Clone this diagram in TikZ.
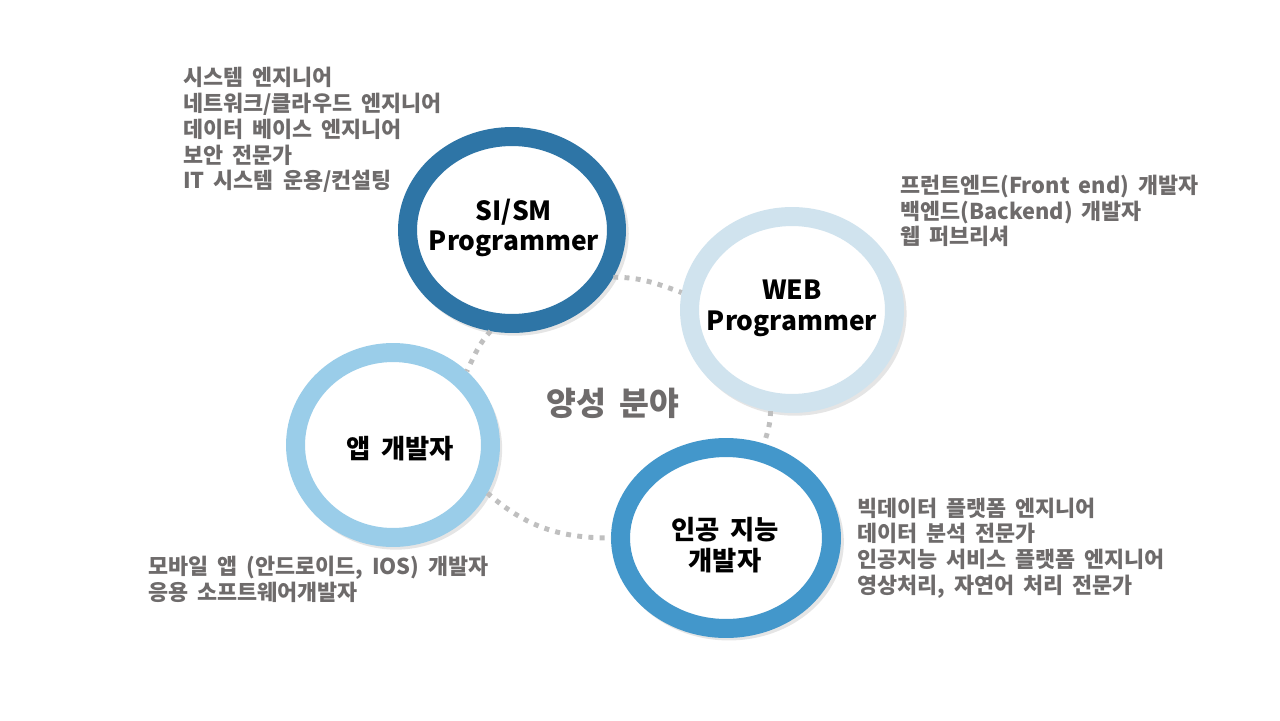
\documentclass[tikz,border=0pt]{standalone}
\usepackage{fontspec}
\setmainfont{Noto Sans CJK KR}[WordSpace=1.8]
\usetikzlibrary{shapes.geometric,shadows}

\definecolor{ringdark}{HTML}{2E75A6}
\definecolor{ringpale}{HTML}{D0E3EE}
\definecolor{ringsky}{HTML}{9ACDE9}
\definecolor{ringmid}{HTML}{4397CB}
\definecolor{listgray}{HTML}{6E6B6B}
\definecolor{dotgray}{HTML}{BFBFBF}

\tikzset{
    ring/.style={ellipse, draw=#1, fill=white, line width=0.38cm, inner sep=0pt,
        drop shadow={shadow xshift=1.5pt, shadow yshift=-2pt, shadow scale=1.09, opacity=0.2}},
    ringtitle/.style={align=center, inner sep=0pt, font=\bfseries\fontsize{15}{17.5}\selectfont},
    fieldlist/.style={anchor=west, align=left, inner sep=0pt, text=listgray,
        font=\bfseries\fontsize{12.4}{14.7}\selectfont},
    dotlink/.style={draw=dotgray, line width=2.8pt, dash pattern=on 2.8pt off 3.6pt},
}

\begin{document}
\begin{tikzpicture}[x=0.02cm, y=0.02cm]
    \useasboundingbox[fill=white] (0,0) rectangle (1280,-720);

    % the four fields
    \node[ring=ringdark, minimum width=4.18cm, minimum height=3.74cm] (sism) at (512,-230) {};
    \node[ring=ringpale, minimum width=4.10cm, minimum height=3.74cm] (web) at (792,-310) {};
    \node[ring=ringsky, minimum width=3.90cm, minimum height=3.70cm] (app) at (393,-445) {};
    \node[ring=ringmid, minimum width=4.22cm, minimum height=3.62cm] (ai) at (726,-538) {};

    \node[ringtitle] (sismtitle) at (514,-228) {SI/SM\\Programmer};
    \node[ringtitle] (webtitle) at (792,-308) {WEB\\Programmer};
    \node[ringtitle] (apptitle) at (400,-449) {앱 개발자};
    \node[ringtitle] (aititle) at (725,-545) {인공 지능\\개발자};

    % dotted links
    \draw[dotlink] (sism.-25) to[out=0,in=160] (web.171);
    \draw[dotlink] (sism.258) to[out=228,in=64] (app.45);
    \draw[dotlink] (app.-27) to[out=-41,in=180] (ai.180);
    \draw[dotlink] (web.258) to[out=-90,in=74] (ai.68);

    \node[text=listgray, font=\bfseries\fontsize{18.5}{20}\selectfont] (field) at (613,-403) {양성 분야};

    % job lists
    \node[fieldlist] (sismlist) at (183,-130) {시스템 엔지니어\\네트워크/클라우드 엔지니어\\데이터 베이스 엔지니어\\보안 전문가\\IT 시스템 운용/컨설팅};
    \node[fieldlist] (weblist) at (900,-211) {프런트엔드(Front end) 개발자\\백엔드(Backend) 개발자\\웹 퍼브리셔};
    \node[fieldlist] (ailist) at (857,-548) {빅데이터 플랫폼 엔지니어\\데이터 분석 전문가\\인공지능 서비스 플랫폼 엔지니어\\영상처리, 자연어 처리 전문가};
    \node[fieldlist] (applist) at (148,-579) {모바일 앱 (안드로이드, IOS) 개발자\\응용 소프트웨어개발자};
\end{tikzpicture}
\end{document}
